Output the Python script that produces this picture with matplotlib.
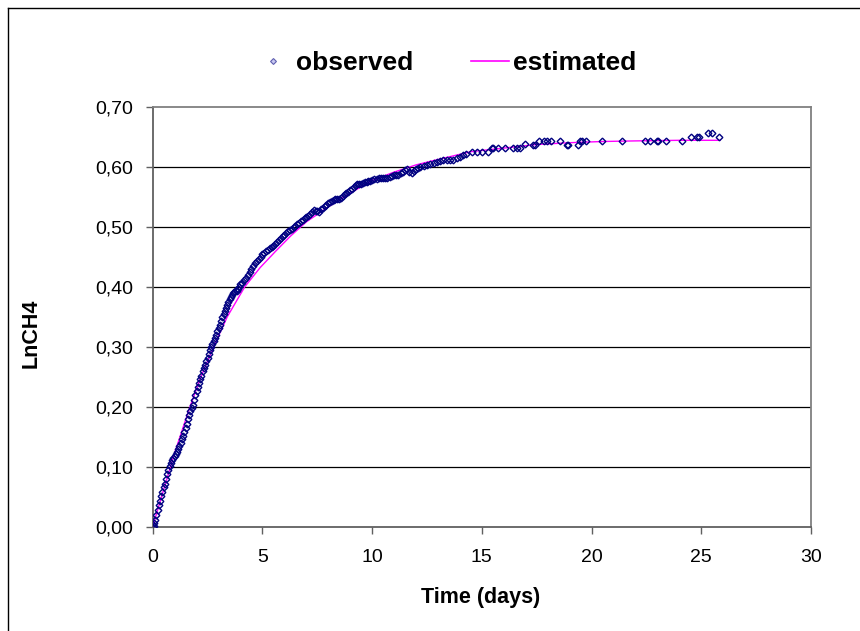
import matplotlib
matplotlib.use('Agg')
import matplotlib.pyplot as plt
from matplotlib.lines import Line2D

plt.rcParams['font.family'] = ['Liberation Sans', 'DejaVu Sans']

# observed points (time in days, LnCH4)
obs_t = [0.02, 0.05, 0.08, 0.12, 0.17, 0.22, 0.28, 0.33, 0.39, 0.44, 0.50, 0.55, 0.61, 0.67, 0.72, 0.78, 0.83, 0.89, 0.94, 1.00,
         1.06, 1.11, 1.17, 1.22, 1.28, 1.33, 1.39, 1.44, 1.50, 1.56, 1.61, 1.67, 1.72, 1.78, 1.83, 1.89, 1.94, 2.00,
         2.06, 2.11, 2.17, 2.22, 2.28, 2.33, 2.39, 2.44, 2.50, 2.56, 2.61, 2.67, 2.72, 2.78, 2.83, 2.89, 2.94, 3.00,
         3.06, 3.12, 3.17, 3.23, 3.28, 3.34, 3.39, 3.45, 3.50, 3.56, 3.61, 3.67, 3.72, 3.78, 3.83, 3.89, 3.94, 4.00,
         4.08, 4.17, 4.25, 4.33, 4.42, 4.50, 4.58, 4.67, 4.75, 4.83, 4.92, 5.00,
         5.08, 5.17, 5.25, 5.33, 5.42, 5.50, 5.58, 5.67, 5.75, 5.83, 5.92, 6.00,
         6.08, 6.17, 6.25, 6.33, 6.42, 6.50, 6.58, 6.67, 6.75, 6.83, 6.92, 7.00,
         7.08, 7.17, 7.25, 7.33, 7.42, 7.50, 7.58, 7.67, 7.75, 7.83, 7.92, 8.00,
         8.08, 8.17, 8.25, 8.33, 8.42, 8.50, 8.58, 8.67, 8.75, 8.83, 8.92, 9.00,
         9.08, 9.17, 9.25, 9.33, 9.42, 9.50, 9.58, 9.67, 9.75, 9.83, 9.92, 10.00,
         10.1, 10.2, 10.3, 10.4, 10.5, 10.6, 10.7, 10.8, 10.9, 11.0,
         11.1, 11.2, 11.3, 11.4, 11.5, 11.6, 11.7, 11.8, 11.9, 12.0,
         12.1, 12.2, 12.35, 12.5, 12.65, 12.8, 12.95, 13.1, 13.25, 13.4, 13.55, 13.7, 13.85, 14.0, 14.15, 14.3,
         14.54, 14.77, 14.99, 15.3, 15.45, 15.53, 15.75, 16.06, 16.44, 16.59, 16.74, 16.97,
         17.35, 17.43, 17.6, 17.84, 17.99, 18.14, 18.57, 18.87, 18.94, 19.4, 19.48, 19.55, 19.74,
         20.49, 21.38, 22.44, 22.67, 22.97, 23.05, 23.38, 24.11, 24.52, 24.8, 24.9, 25.32, 25.48, 25.81]
obs_y = [0.000, 0.002, 0.006, 0.012, 0.020, 0.028, 0.036, 0.043, 0.051, 0.058, 0.066, 0.072, 0.080, 0.088, 0.094, 0.101, 0.106, 0.111, 0.114, 0.118,
         0.121, 0.125, 0.129, 0.134, 0.140, 0.146, 0.152, 0.158, 0.165, 0.172, 0.180, 0.187, 0.193, 0.198, 0.203, 0.211, 0.219, 0.226,
         0.233, 0.240, 0.246, 0.252, 0.259, 0.265, 0.270, 0.276, 0.282, 0.288, 0.294, 0.299, 0.304, 0.309, 0.315, 0.320, 0.326, 0.331,
         0.337, 0.343, 0.349, 0.355, 0.360, 0.365, 0.370, 0.375, 0.379, 0.383, 0.386, 0.390, 0.392, 0.395, 0.393, 0.396, 0.400, 0.404,
         0.407, 0.411, 0.415, 0.420, 0.425, 0.430, 0.435, 0.439, 0.443, 0.446, 0.450, 0.454,
         0.457, 0.460, 0.462, 0.464, 0.466, 0.468, 0.472, 0.475, 0.478, 0.481, 0.484, 0.487,
         0.490, 0.493, 0.495, 0.497, 0.499, 0.502, 0.505, 0.507, 0.510, 0.512, 0.514, 0.516,
         0.518, 0.521, 0.524, 0.528, 0.527, 0.526, 0.525, 0.529, 0.532, 0.534, 0.536, 0.539,
         0.542, 0.543, 0.545, 0.546, 0.546, 0.547, 0.548, 0.551, 0.554, 0.556, 0.558, 0.561,
         0.563, 0.566, 0.569, 0.571, 0.572, 0.572, 0.573, 0.575, 0.575, 0.576, 0.577, 0.578,
         0.579, 0.580, 0.581, 0.581, 0.581, 0.582, 0.581, 0.583, 0.585, 0.586,
         0.586, 0.587, 0.589, 0.592, 0.595, 0.597, 0.591, 0.590, 0.593, 0.596,
         0.598, 0.600, 0.601, 0.603, 0.605, 0.606, 0.608, 0.610, 0.611, 0.611, 0.611, 0.612, 0.614, 0.617, 0.619, 0.621,
         0.625, 0.625, 0.625, 0.625, 0.631, 0.631, 0.631, 0.631, 0.631, 0.631, 0.631, 0.638,
         0.637, 0.637, 0.643, 0.643, 0.643, 0.643, 0.643, 0.637, 0.637, 0.637, 0.643, 0.643, 0.643,
         0.643, 0.643, 0.643, 0.643, 0.643, 0.643, 0.643, 0.643, 0.650, 0.650, 0.650, 0.656, 0.656, 0.650]

# fitted curve
est_t = [0, 0.5, 1.0, 1.7, 2.2, 2.8, 3.4, 4.2, 4.9, 5.6, 6.3, 7.0, 8.0, 9.0, 10.0, 11.0, 12.0, 13.0,
         14.5, 16.0, 17.5, 19.0, 20.5, 22.0, 24.0, 25.85]
est_y = [0.000, 0.062, 0.123, 0.200, 0.250, 0.302, 0.350, 0.400, 0.432, 0.459, 0.485, 0.508, 0.533, 0.556,
         0.577, 0.591, 0.603, 0.612, 0.625, 0.631, 0.637, 0.640, 0.642, 0.643, 0.644, 0.644]

x_ticks = [0, 5, 10, 15, 20, 25, 30]
y_ticks = [0.0, 0.1, 0.2, 0.3, 0.4, 0.5, 0.6, 0.7]

W, H = 860, 631
fig = plt.figure(figsize=(W / 100, H / 100), dpi=100)
ax = fig.add_axes([152.7 / W, 1 - 526.7 / H, (811 - 152.7) / W, (526.7 - 106.7) / H])

ax.set_xlim(0, 30)
ax.set_ylim(0, 0.7)
ax.set_xticks(x_ticks)
ax.set_yticks(y_ticks)
ax.set_xticklabels([str(v) for v in x_ticks])
ax.set_yticklabels([('%.2f' % v).replace('.', ',') for v in y_ticks])
ax.tick_params(direction='out', length=5, width=1, color='#606060', labelsize=14)
ax.tick_params(axis='y', pad=9)
ax.tick_params(axis='x', pad=11)

for y in y_ticks[1:-1]:
    ax.axhline(y, color='black', lw=0.9, zorder=1)
for s in ax.spines.values():
    s.set_color('#808080')
    s.set_linewidth(1.3)
ax.spines['left'].set_color('#606060')
ax.spines['bottom'].set_color('#606060')

ax.plot(est_t, est_y, color='#FF00FF', lw=1.0, zorder=3)
ax.plot(obs_t, obs_y, ls='none', marker='D', ms=3.4, mfc='none', mec='#000080', mew=1.0, zorder=4)

fig.text(481 / W, 1 - 598 / H, 'Time (days)', ha='center', va='center', fontsize=15.5, fontweight='bold')
fig.text(31 / W, 1 - 333 / H, 'LnCH4', ha='center', va='center', rotation=90, fontsize=15.5, fontweight='bold')

handles = [Line2D([], [], ls='none', marker='D', ms=3, mfc='#c8c8f0', mec='#6060b0', mew=0.8),
           Line2D([], [], color='#FF00FF', lw=1.2)]
fig.legend(handles, ['observed', 'estimated'], loc='center', bbox_to_anchor=(445 / W, 1 - 63 / H),
           ncol=2, frameon=False, prop={'weight': 'bold', 'size': 19}, handlelength=1.45,
           handletextpad=0.15, columnspacing=2.2)

# frame edges left over from the crop
fig.add_artist(Line2D([8 / W, 8 / W], [0, 1 - 8 / H], color='black', lw=1))
fig.add_artist(Line2D([8 / W, 1], [1 - 8 / H, 1 - 8 / H], color='black', lw=1))

fig.savefig('out.png', dpi=100)
